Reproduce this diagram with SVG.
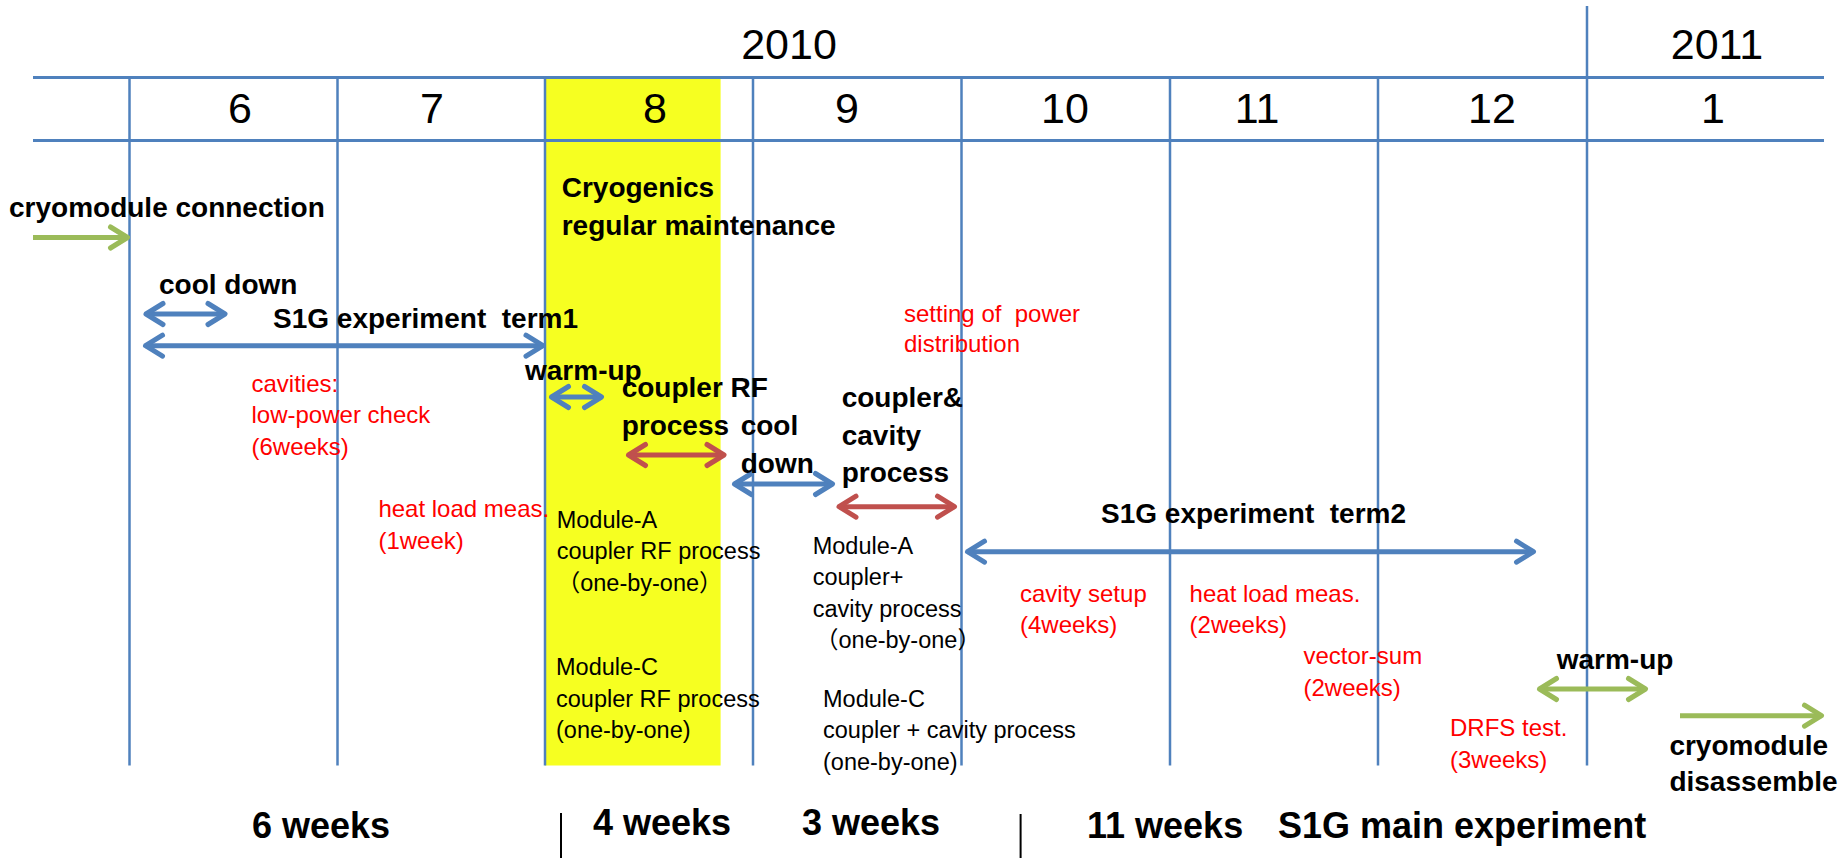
<svg xmlns="http://www.w3.org/2000/svg" width="1845" height="858" viewBox="0 0 1845 858">
<style>
.hl{stroke:#4F81BD;stroke-width:3}
.vl{stroke:#4F81BD;stroke-width:2.5}
.sep{stroke:#000;stroke-width:2}
text{font-family:"Liberation Sans",Arial,"Noto Sans CJK JP",sans-serif;white-space:pre}
.big{font-size:43px;fill:#000;text-anchor:middle}
.b{font-size:28px;font-weight:bold;fill:#000}
.r{font-size:24px;fill:#FF0000}
.k{font-size:23.5px;fill:#000}
.wk{font-size:36px;font-weight:bold;fill:#000}
.ab{stroke:#4F81BD;stroke-width:5;fill:none}
.ar{stroke:#C0504D;stroke-width:5;fill:none}
.ag{stroke:#9BBB59;stroke-width:5;fill:none}
</style>
<defs>
<marker id="mb" markerUnits="userSpaceOnUse" markerWidth="40" markerHeight="40" refX="0" refY="0" orient="auto-start-reverse" overflow="visible"><path d="M-17,-10.5 L0,0 L-17,10.5" fill="none" stroke="#4F81BD" stroke-width="5" stroke-linecap="round" stroke-linejoin="round"/></marker>
<marker id="mr" markerUnits="userSpaceOnUse" markerWidth="40" markerHeight="40" refX="0" refY="0" orient="auto-start-reverse" overflow="visible"><path d="M-17,-10.5 L0,0 L-17,10.5" fill="none" stroke="#C0504D" stroke-width="5" stroke-linecap="round" stroke-linejoin="round"/></marker>
<marker id="mg" markerUnits="userSpaceOnUse" markerWidth="40" markerHeight="40" refX="0" refY="0" orient="auto-start-reverse" overflow="visible"><path d="M-17,-10.5 L0,0 L-17,10.5" fill="none" stroke="#9BBB59" stroke-width="5" stroke-linecap="round" stroke-linejoin="round"/></marker>
</defs>
<rect width="1845" height="858" fill="#FFFFFF"/>
<g id="maintenance-band">
<rect x="545" y="78" width="175.6" height="687.5" fill="#F6FF21"/>
</g>
<g id="grid">
<line class="hl" x1="33" y1="77.5" x2="1824" y2="77.5"/>
<line class="hl" x1="33" y1="140.5" x2="1824" y2="140.5"/>
<line class="vl" x1="129.5" y1="77" x2="129.5" y2="765.5"/>
<line class="vl" x1="337.5" y1="77" x2="337.5" y2="765.5"/>
<line class="vl" x1="545" y1="77" x2="545" y2="765.5"/>
<line class="vl" x1="753" y1="77" x2="753" y2="765.5"/>
<line class="vl" x1="961.5" y1="77" x2="961.5" y2="765.5"/>
<line class="vl" x1="1170" y1="77" x2="1170" y2="765.5"/>
<line class="vl" x1="1378" y1="77" x2="1378" y2="765.5"/>
<line class="vl" x1="1587" y1="6" x2="1587" y2="765.5"/>
<line class="sep" x1="561" y1="813" x2="561" y2="858"/>
<line class="sep" x1="1020.6" y1="814" x2="1020.6" y2="858"/>
</g>
<g id="header">
<text class="big" x="789" y="59">2010</text>
<text class="big" x="1717" y="59">2011</text>
<text class="big" x="240" y="123">6</text>
<text class="big" x="432" y="123">7</text>
<text class="big" x="655" y="123">8</text>
<text class="big" x="847" y="123">9</text>
<text class="big" x="1065" y="123">10</text>
<text class="big" x="1257" y="123">11</text>
<text class="big" x="1492" y="123">12</text>
<text class="big" x="1713" y="123">1</text>
</g>
<g id="connectors">
<line class="ag" x1="33" y1="237.5" x2="127.5" y2="237.5" marker-end="url(#mg)"/>
<line class="ab" x1="146" y1="314" x2="225" y2="314" marker-start="url(#mb)" marker-end="url(#mb)"/>
<line class="ab" x1="145.5" y1="345.7" x2="543" y2="345.7" marker-start="url(#mb)" marker-end="url(#mb)"/>
<line class="ab" x1="551.5" y1="397" x2="601.5" y2="397" marker-start="url(#mb)" marker-end="url(#mb)"/>
<line class="ar" x1="628.5" y1="455" x2="724" y2="455" marker-start="url(#mr)" marker-end="url(#mr)"/>
<line class="ab" x1="734.5" y1="484" x2="832.5" y2="484" marker-start="url(#mb)" marker-end="url(#mb)"/>
<line class="ar" x1="839" y1="506.7" x2="954.5" y2="506.7" marker-start="url(#mr)" marker-end="url(#mr)"/>
<line class="ab" x1="967.5" y1="551.7" x2="1533.5" y2="551.7" marker-start="url(#mb)" marker-end="url(#mb)"/>
<line class="ag" x1="1539.5" y1="689" x2="1645.5" y2="689" marker-start="url(#mg)" marker-end="url(#mg)"/>
<line class="ag" x1="1680" y1="715.7" x2="1821.5" y2="715.7" marker-end="url(#mg)"/>
</g>
<g id="cryomodule-connection"><text class="b" x="9" y="217">cryomodule connection</text></g>
<g id="cryogenics-maintenance"><text class="b" x="561.7" y="197">Cryogenics</text><text class="b" x="561.7" y="235">regular maintenance</text></g>
<g id="cool-down-1"><text class="b" x="159" y="294">cool down</text></g>
<g id="term1"><text class="b" x="273" y="328">S1G experiment  term1</text></g>
<g id="warm-up-1"><text class="b" x="525" y="380">warm-up</text></g>
<g id="coupler-rf-process"><text class="b" x="621.7" y="397">coupler RF</text><text class="b" x="621.7" y="435">process</text></g>
<g id="cool-down-2"><text class="b" x="740.7" y="435">cool</text><text class="b" x="740.7" y="473">down</text></g>
<g id="coupler-cavity-process"><text class="b" x="841.7" y="406.7">coupler&amp;</text><text class="b" x="841.7" y="445">cavity</text><text class="b" x="841.7" y="481.7">process</text></g>
<g id="term2"><text class="b" x="1101" y="523">S1G experiment  term2</text></g>
<g id="warm-up-2"><text class="b" x="1556.7" y="669">warm-up</text></g>
<g id="disassemble"><text class="b" x="1669.4" y="755">cryomodule</text><text class="b" x="1669.4" y="791">disassemble</text></g>
<g id="low-power-check"><text class="r" x="251.5" y="392">cavities:</text><text class="r" x="251.5" y="423">low-power check</text><text class="r" x="251.5" y="455">(6weeks)</text></g>
<g id="heat-load-1"><text class="r" x="378.4" y="517">heat load meas.</text><text class="r" x="378.4" y="549">(1week)</text></g>
<g id="power-distribution"><text class="r" x="904" y="321.7">setting of  power</text><text class="r" x="904" y="351.7">distribution</text></g>
<g id="cavity-setup"><text class="r" x="1020" y="601.7">cavity setup</text><text class="r" x="1020" y="632.7">(4weeks)</text></g>
<g id="heat-load-2"><text class="r" x="1189.6" y="601.7">heat load meas.</text><text class="r" x="1189.6" y="632.7">(2weeks)</text></g>
<g id="vector-sum"><text class="r" x="1303.5" y="664">vector-sum</text><text class="r" x="1303.5" y="696">(2weeks)</text></g>
<g id="drfs-test"><text class="r" x="1450" y="736">DRFS test.</text><text class="r" x="1450" y="768">(3weeks)</text></g>
<g id="module-a-rf"><text class="k" x="556.7" y="527.7">Module-A</text><text class="k" x="556.7" y="559.3">coupler RF process</text><text class="k" x="556.7" y="590.7">（one-by-one）</text></g>
<g id="module-c-rf"><text class="k" x="556" y="675">Module-C</text><text class="k" x="556" y="706.7">coupler RF process</text><text class="k" x="556" y="738">(one-by-one)</text></g>
<g id="module-a-cavity"><text class="k" x="812.7" y="554.3">Module-A</text><text class="k" x="812.7" y="585">coupler+</text><text class="k" x="812.7" y="616.7">cavity process</text><text class="k" x="815" y="648">（one-by-one）</text></g>
<g id="module-c-cavity"><text class="k" x="823" y="706.7">Module-C</text><text class="k" x="823" y="738">coupler + cavity process</text><text class="k" x="823" y="770">(one-by-one)</text></g>
<g id="durations">
<text class="wk" x="252" y="838">6 weeks</text>
<text class="wk" x="593" y="835">4 weeks</text>
<text class="wk" x="802" y="835">3 weeks</text>
<text class="wk" x="1087" y="838">11 weeks</text>
<text class="wk" x="1278" y="838">S1G main experiment</text>
</g>
</svg>
